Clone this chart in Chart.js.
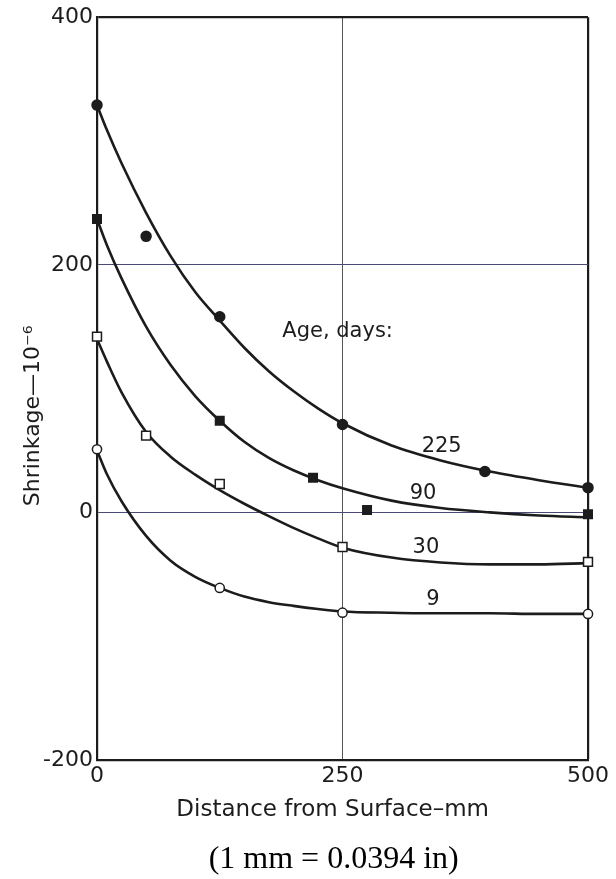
<!DOCTYPE html>
<html lang="en">
<head>
<meta charset="UTF-8">
<title>Shrinkage vs distance from surface</title>
<script src="https://cdn.jsdelivr.net/npm/chart.js@4"></script>
<style>
  html, body { margin: 0; padding: 0; background: #fff; }
  #wrap { width: 616px; height: 879px; }
</style>
</head>
<body>
<div id="wrap"><canvas id="chart"></canvas></div>
<script>
// measured points: distance from surface (mm) / shrinkage (10^-6)
const dist225 = [0, 50, 125, 250, 395, 500];
const shr225  = [329, 223, 158, 71, 33, 20];
const dist90  = [0, 125, 220, 275, 500];
const shr90   = [237, 74, 28, 2, -1.5];
const dist30  = [0, 50, 125, 250, 500];
const shr30   = [142, 62, 23, -28, -40];
const dist9   = [0, 125, 250, 500];
const shr9    = [51, -61, -81, -82];

// hand-drawn curves
const curveX   = [0, 10, 25, 50, 75, 100, 125, 150, 175, 200, 225, 250, 300, 350, 400, 450, 500];
const curve225 = [329, 309, 282, 242, 207, 178, 155, 133, 114, 98, 84, 72, 54, 42, 33, 26, 20];
const curve90  = [237, 216, 189, 150, 119, 94, 74, 57, 44, 34, 26, 19.5, 9.5, 3.5, 0, -2.5, -4];
const curve30  = [140, 122, 97, 65, 45, 30.5, 18, 7, -3, -12.5, -21, -28.5, -36.5, -40.5, -42, -42, -41];
const curve9   = [50, 31, 9, -19, -39, -52, -61, -68, -72.5, -75.5, -78, -80, -81, -81.5, -81.5, -82, -82];

const xTicks = [0, 250, 500];
const yTicks = [-200, 0, 200, 400];

const noteText = ['Age, days:', '225', '90', '30', '9'];
const noteX = [245, 351, 332, 335, 342];
const noteY = [146, 53, 15, -28, -70];

const xTitle = 'Distance from Surface\u2013mm';
const yTitle = 'Shrinkage\u201410\u207B\u2076';
const caption = '(1 mm = 0.0394 in)';

const ink = '#1c1c1c';
const sans = '"DejaVu Sans", sans-serif';
const pts = (xs, ys) => xs.map((x, i) => ({ x: x, y: ys[i] }));

function curve(ys) {
    return {
        data: pts(curveX, ys),
        showLine: true,
        borderColor: ink,
        borderWidth: 2.6,
        pointRadius: 0,
        cubicInterpolationMode: 'monotone',
        order: 2
    };
}

function marks(xs, ys, style, r, fill) {
    return {
        data: pts(xs, ys),
        pointStyle: style,
        pointRadius: r,
        backgroundColor: fill,
        borderColor: ink,
        borderWidth: 1.5,
        clip: false,
        order: 1
    };
}

// free text: age labels, axis titles and the caption under the chart
const notes = {
    id: 'notes',
    afterDatasetsDraw(chart) {
        const { ctx, scales: { x, y } } = chart;
        ctx.save();
        ctx.fillStyle = ink;
        ctx.textAlign = 'center';
        ctx.textBaseline = 'middle';
        ctx.font = '21px ' + sans;
        noteText.forEach((t, i) => {
            ctx.fillText(t, x.getPixelForValue(noteX[i]), y.getPixelForValue(noteY[i]));
        });

        ctx.font = '23px ' + sans;
        ctx.fillText(xTitle, x.getPixelForValue(240), y.bottom + 50);

        ctx.fillStyle = '#000';
        ctx.font = '32px "Liberation Serif", serif';
        ctx.fillText(caption, x.getPixelForValue(241), y.bottom + 100);

        ctx.fillStyle = ink;
        ctx.translate(33, y.getPixelForValue(78));
        ctx.rotate(-Math.PI / 2);
        ctx.font = '22px ' + sans;
        ctx.fillText(yTitle, 0, 0);
        ctx.restore();
    }
};

new Chart(document.getElementById('chart'), {
    type: 'scatter',
    data: {
        datasets: [
            curve(curve225), curve(curve90), curve(curve30), curve(curve9),
            marks(dist225, shr225, 'circle', 5, ink),
            marks(dist90, shr90, 'rect', 6, ink),
            marks(dist30, shr30, 'rect', 6.3, '#fff'),
            marks(dist9, shr9, 'circle', 4.6, '#fff')
        ]
    },
    options: {
        responsive: true,
        maintainAspectRatio: false,
        animation: false,
        layout: { padding: { top: 17, right: 28, bottom: 41, left: 0 } },
        plugins: {
            legend: { display: false },
            tooltip: { enabled: false }
        },
        scales: {
            x: {
                type: 'linear',
                min: 0,
                max: 500,
                afterBuildTicks: s => { s.ticks = xTicks.map(v => ({ value: v })); },
                afterFit: s => { s.height = 78; },
                ticks: { color: ink, padding: 3, font: { family: sans, size: 22 }, callback: v => String(v) },
                grid: {
                    drawTicks: false,
                    color: c => c.tick.value === 500 ? ink : (c.tick.value === 0 ? 'rgba(0,0,0,0)' : '#555'),
                    lineWidth: c => c.tick.value === 500 ? 2.2 : 1
                },
                border: { color: ink, width: 2.2 }
            },
            y: {
                type: 'linear',
                min: -200,
                max: 400,
                afterBuildTicks: s => { s.ticks = yTicks.map(v => ({ value: v })); },
                afterFit: s => { s.width = 97; },
                ticks: { color: ink, padding: 4, font: { family: sans, size: 22 }, callback: v => String(v) },
                grid: {
                    drawTicks: false,
                    color: c => c.tick.value === 400 ? ink : (c.tick.value === -200 ? 'rgba(0,0,0,0)' : '#4a4a78'),
                    lineWidth: c => c.tick.value === 400 ? 2.2 : 1
                },
                border: { color: ink, width: 2.2 }
            }
        }
    },
    plugins: [notes]
});
</script>
</body>
</html>
